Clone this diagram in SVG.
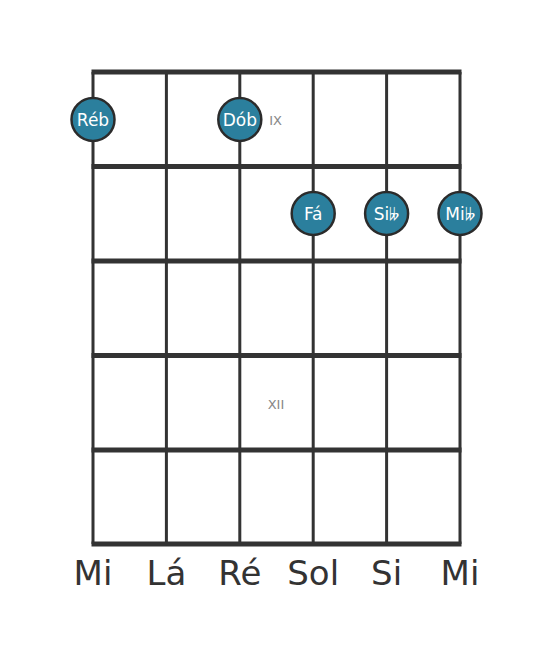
<svg xmlns="http://www.w3.org/2000/svg" width="553" height="656" viewBox="0 0 553 656">
<style>
.str{stroke:#333;stroke-width:3}
.fret{stroke:#333;stroke-width:5}
.dot circle{fill:#2b7f9d;stroke:#2b2b2b;stroke-width:2.5}
.dot text{fill:#fff;font-family:"DejaVu Sans",sans-serif;font-size:17px;text-anchor:middle;dominant-baseline:central}
.pos{fill:#888;font-family:"DejaVu Sans",sans-serif;font-size:13px;text-anchor:middle;dominant-baseline:central}
.lbl{fill:#333;font-family:"DejaVu Sans",sans-serif;font-size:34px;text-anchor:middle}
</style>
<rect width="553" height="656" fill="#fff"/>
<g id="grid">
<line class="str" x1="93" y1="72" x2="93" y2="544"/>
<line class="str" x1="166.4" y1="72" x2="166.4" y2="544"/>
<line class="str" x1="239.8" y1="72" x2="239.8" y2="544"/>
<line class="str" x1="313.2" y1="72" x2="313.2" y2="544"/>
<line class="str" x1="386.6" y1="72" x2="386.6" y2="544"/>
<line class="str" x1="460" y1="72" x2="460" y2="544"/>
<line class="fret" x1="91.5" y1="72" x2="461.5" y2="72"/>
<line class="fret" x1="91.5" y1="166.5" x2="461.5" y2="166.5"/>
<line class="fret" x1="91.5" y1="261" x2="461.5" y2="261"/>
<line class="fret" x1="91.5" y1="355.5" x2="461.5" y2="355.5"/>
<line class="fret" x1="91.5" y1="450" x2="461.5" y2="450"/>
<line class="fret" x1="91.5" y1="544" x2="461.5" y2="544"/>
</g>
<text class="pos" x="275.5" y="120">IX</text>
<text class="pos" x="276" y="404">XII</text>
<g id="n-reb" class="dot"><circle cx="93" cy="119.5" r="21.5"/><text x="93" y="119.5">Réb</text></g>
<g id="n-dob" class="dot"><circle cx="239.8" cy="119.5" r="21.5"/><text x="239.8" y="119.5">Dób</text></g>
<g id="n-fa" class="dot"><circle cx="313.2" cy="213.5" r="21.5"/><text x="313.2" y="213.5">Fá</text></g>
<g id="n-si" class="dot"><circle cx="386.6" cy="213.5" r="21.5"/><text x="386.6" y="213.5">Si𝄫</text></g>
<g id="n-mi" class="dot"><circle cx="460" cy="213.5" r="21.5"/><text x="460" y="213.5">Mi𝄫</text></g>
<g id="labels">
<text class="lbl" x="93" y="585">Mi</text>
<text class="lbl" x="166.4" y="585">Lá</text>
<text class="lbl" x="239.8" y="585">Ré</text>
<text class="lbl" x="313.2" y="585">Sol</text>
<text class="lbl" x="386.6" y="585">Si</text>
<text class="lbl" x="460" y="585">Mi</text>
</g>
<g id="connectors"></g>
</svg>
